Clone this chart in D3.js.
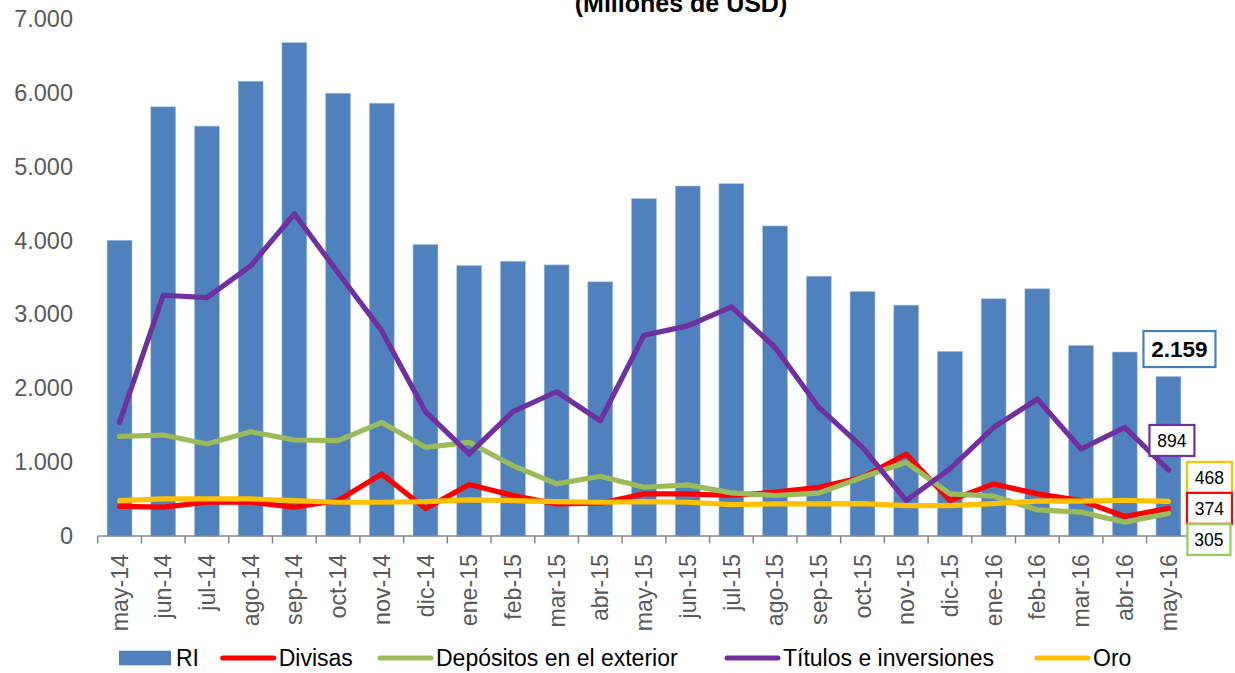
<!DOCTYPE html>
<html>
<head>
<meta charset="utf-8">
<script src="https://cdn.jsdelivr.net/npm/d3@7"></script>
<style>
  html, body { margin: 0; padding: 0; background: #ffffff; }
  svg { display: block; font-family: "Liberation Sans", Arial, sans-serif; }
</style>
</head>
<body>
<div id="chart"></div>
<script>
// ---------------- DATA ----------------
const categories = ["may-14","jun-14","jul-14","ago-14","sep-14","oct-14","nov-14","dic-14","ene-15","feb-15","mar-15","abr-15","may-15","jun-15","jul-15","ago-15","sep-15","oct-15","nov-15","dic-15","ene-16","feb-16","mar-16","abr-16","may-16"];
const ri        = [4004,5811,5550,6158,6680,5995,5860,3946,3662,3720,3671,3441,4568,4739,4770,4198,3518,3311,3126,2500,3212,3347,2581,2491,2159];
const divisas   = [400,390,457,457,390,480,840,372,696,548,435,444,570,570,548,593,660,795,1111,480,705,570,480,264,374];
const depositos = [1349,1367,1246,1412,1300,1291,1538,1201,1268,953,705,809,660,692,584,548,580,795,998,570,539,354,323,187,305];
const titulos   = [1538,3260,3227,3656,4363,3565,2777,1683,1111,1683,1953,1561,2719,2845,3102,2552,1741,1201,480,908,1471,1854,1178,1471,894];
const oro       = [480,503,503,503,480,457,457,466,489,480,466,457,466,457,426,435,435,439,412,412,439,471,471,484,468];
const yTicks    = [0,1000,2000,3000,4000,5000,6000,7000];
const seriesNames = ["RI","Divisas","Depósitos en el exterior","Títulos e inversiones","Oro"];
const titleText = "(Millones de USD)";

// ---------------- LAYOUT ----------------
const W = 1235, H = 673;
const colors = { RI: "#4f81bd", Divisas: "#ff0000", Dep: "#9bbb59", Tit: "#7030a0", Oro: "#ffc000" };

const svg = d3.select("#chart").append("svg").attr("width", W).attr("height", H);
svg.append("rect").attr("width", W).attr("height", H).attr("fill", "#fff");

const x = d3.scaleBand().domain(categories).range([97.7, 1190.3]).paddingInner(0.43).paddingOuter(0.215);
const y = d3.scaleLinear().domain([0, 7000]).range([536, 19]);
const cx = c => x(c) + x.bandwidth() / 2;

const loc = d3.formatLocale({ decimal: ",", thousands: ".", grouping: [3], currency: ["$", ""] });
const fmt = loc.format(",d");

// title
svg.append("text").attr("x", 681).attr("y", 12).attr("text-anchor", "middle")
  .attr("font-weight", "bold").attr("font-size", 25).attr("fill", "#000").text(titleText);

// y axis (labels only)
const yAxis = svg.append("g").attr("transform", "translate(73,0)")
  .call(d3.axisLeft(y).tickValues(yTicks).tickSize(0).tickPadding(0).tickFormat(fmt));
yAxis.select(".domain").remove();
yAxis.selectAll("text").attr("font-size", 23.5).attr("fill", "#595959")
  .attr("font-family", "'Liberation Sans', Arial, sans-serif");

// bars
svg.append("g").selectAll("rect").data(categories).join("rect")
  .attr("x", d => x(d)).attr("width", x.bandwidth())
  .attr("y", (d, i) => y(ri[i])).attr("height", (d, i) => y(0) - y(ri[i]))
  .attr("fill", colors.RI).attr("stroke", "#a9c0de").attr("stroke-width", 0.6);

// x axis line + ticks
const step = x.step();
const gap = (step - x.bandwidth()) / 2;
const xa = svg.append("g");
xa.append("line").attr("x1", x.range()[0]).attr("x2", x.range()[1])
  .attr("y1", y(0)).attr("y2", y(0)).attr("stroke", "#868686").attr("stroke-width", 1.5);
const bounds = categories.map(c => x(c) - gap).concat([x.range()[1]]);
xa.selectAll("line.tick").data(bounds).join("line").attr("class", "tick")
  .attr("x1", d => d).attr("x2", d => d).attr("y1", y(0)).attr("y2", y(0) + 7.5)
  .attr("stroke", "#868686").attr("stroke-width", 1.5);
xa.selectAll("text").data(categories).join("text")
  .attr("transform", d => `translate(${cx(d)},554) rotate(-90)`)
  .attr("text-anchor", "end").attr("dy", "0.35em")
  .attr("font-size", 23.2).attr("fill", "#595959").text(d => d);

// lines (draw order: Divisas, Depósitos, Títulos, Oro)
const lineGen = d3.line().x((d, i) => cx(categories[i])).y(d => y(d));
const order = [
  { vals: divisas, color: colors.Divisas },
  { vals: depositos, color: colors.Dep },
  { vals: titulos, color: colors.Tit },
  { vals: oro, color: colors.Oro }
];
svg.append("g").selectAll("path").data(order).join("path")
  .attr("d", d => lineGen(d.vals)).attr("fill", "none")
  .attr("stroke", d => d.color).attr("stroke-width", 5.2)
  .attr("stroke-linejoin", "round").attr("stroke-linecap", "round");

// data labels for the last point
const last = categories.length - 1;
const lastC = cx(categories[last]);
const labels = [
  { v: ri[last], color: "#4a7ebb", dx: 11, dy: -27.5, w: 72, h: 36, bold: true, fs: 22.5 },
  { v: titulos[last], color: colors.Tit, dx: 3.5, dy: -29.5, w: 45, h: 31, bold: false, fs: 17.5 },
  { v: oro[last], color: colors.Oro, dx: 41, dy: -31, w: 45, h: 31, bold: false, fs: 17.5 },
  { v: divisas[last], color: colors.Divisas, dx: 41, dy: 0, w: 45, h: 31, bold: false, fs: 17.5 },
  { v: depositos[last], color: "#92d050", dx: 40.5, dy: 31, w: 43, h: 31, bold: false, fs: 17.5 }
];
const anchorY = [y(ri[last]), y(titulos[last]), y(divisas[last]), y(divisas[last]), y(divisas[last])];
const lg = svg.append("g");
labels.forEach((l, i) => {
  const ccx = lastC + l.dx, ccy = anchorY[i] + l.dy;
  lg.append("rect").attr("x", ccx - l.w / 2).attr("y", ccy - l.h / 2)
    .attr("width", l.w).attr("height", l.h).attr("fill", "#fff")
    .attr("stroke", l.color).attr("stroke-width", 2.2);
  lg.append("text").attr("x", ccx).attr("y", ccy).attr("dy", "0.36em")
    .attr("text-anchor", "middle").attr("font-size", l.fs)
    .attr("font-weight", l.bold ? "bold" : "normal").attr("fill", "#000").text(fmt(l.v));
});

// legend
const legY = 658;
const legStarts = [119, 220.7, 378, 725, 1035];
const legColors = [colors.RI, colors.Divisas, colors.Dep, colors.Tit, colors.Oro];
const leg = svg.append("g");
seriesNames.forEach((n, i) => {
  const x0 = legStarts[i];
  if (i === 0) {
    leg.append("rect").attr("x", x0).attr("y", legY - 7.3).attr("width", 52).attr("height", 14.6).attr("fill", legColors[i]);
  } else {
    leg.append("line").attr("x1", x0 + 2).attr("x2", x0 + 53).attr("y1", legY).attr("y2", legY)
      .attr("stroke", legColors[i]).attr("stroke-width", 5).attr("stroke-linecap", "round");
  }
  leg.append("text").attr("x", x0 + (i === 0 ? 57 : 58)).attr("y", legY).attr("dy", "0.36em")
    .attr("font-size", 23).attr("fill", "#000").text(n);
});
</script>
</body>
</html>
